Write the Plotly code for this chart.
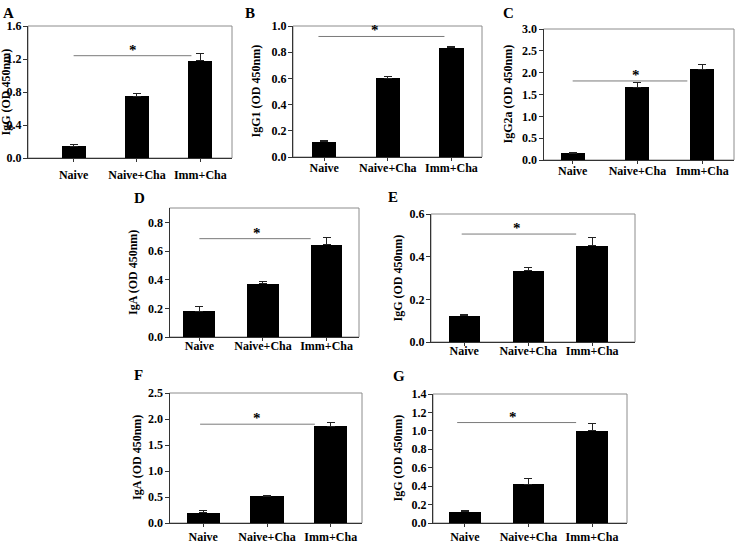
import plotly.graph_objects as go

W, H = 749, 543

categories = ["Naive", "Naive+Cha", "Imm+Cha"]
panel_letters = ["A", "B", "C", "D", "E", "F", "G"]
y_titles = ["IgG (OD 450nm)", "IgG1 (OD 450nm)", "IgG2a (OD 450nm)",
            "IgA (OD 450nm)", "IgG (OD 450nm)", "IgA (OD 450nm)", "IgG (OD 450nm)"]

vals_A = [0.14, 0.75, 1.18]
err_A = [0.02, 0.035, 0.09]
vals_B = [0.115, 0.60, 0.835]
err_B = [0.008, 0.015, 0.008]
vals_C = [0.15, 1.67, 2.08]
err_C = [0.03, 0.10, 0.11]
vals_D = [0.18, 0.37, 0.645]
err_D = [0.035, 0.018, 0.052]
vals_E = [0.124, 0.333, 0.452]
err_E = [0.006, 0.014, 0.04]
vals_F = [0.20, 0.51, 1.86]
err_F = [0.05, 0.025, 0.07]
vals_G = [0.12, 0.42, 1.00]
err_G = [0.015, 0.065, 0.08]

values = [vals_A, vals_B, vals_C, vals_D, vals_E, vals_F, vals_G]
errors = [err_A, err_B, err_C, err_D, err_E, err_F, err_G]

y_max = [1.6, 1.0, 3.0, 0.9, 0.6, 2.5, 1.4]
y_dtick = [0.4, 0.2, 0.5, 0.2, 0.2, 0.5, 0.2]

# significance bar: start category pos, end pos, height, star pos
sig_x0 = [0.0, -0.09, 0.0, 0.0, -0.04, -0.05, -0.12]
sig_x1 = [1.86, 1.89, 1.77, 1.75, 1.75, 1.75, 1.75]
sig_y = [1.24, 0.92, 1.81, 0.686, 0.506, 1.90, 1.09]
sig_star_x = [0.94, 0.8, 0.97, 0.91, 0.83, 0.84, 0.76]

# ---- layout (pixel boxes in the picture) ----
boxes = [  # x0, x1, y0(top), y1(bottom)
    (28, 232, 26, 158),
    (293, 482, 26, 157),
    (543.5, 734, 29, 160),
    (169.5, 359, 208, 337),
    (431, 635, 214, 342),
    (169.5, 362, 393, 523),
    (433, 627, 394, 523),
]
x_ranges = [(-0.72, 2.5), (-0.49, 2.48), (-0.45, 2.49), (-0.47, 2.51),
            (-0.52, 2.67), (-0.53, 2.49), (-0.5, 2.55)]
bar_widths = [0.38, 0.385, 0.37, 0.5, 0.49, 0.52, 0.5]
xlabel_standoff = [3, -3, -3, -5, -5, 0, 0]
letter_pos = [(8, 13), (250, 13), (508, 13), (139, 198), (393, 197), (138, 375), (399, 376)]
ytitle_x = [5.5, 256, 507, 132.5, 397.5, 137, 397]

FONT = "Liberation Serif"

def px(x):
    return x / W

def py(y):
    return 1 - y / H

fig = go.Figure()
annotations = []
shapes = []
layout_axes = {}

for i in range(7):
    n = "" if i == 0 else str(i + 1)
    xa, ya = "x" + n, "y" + n
    fig.add_trace(go.Bar(
        x=[0, 1, 2], y=values[i], xaxis=xa, yaxis=ya,
        width=bar_widths[i],
        marker=dict(color="black", line=dict(width=0)),
        error_y=dict(type="data", array=errors[i], arrayminus=[0, 0, 0], symmetric=False,
                     color="#222222", thickness=1, width=4),
        showlegend=False,
    ))
    x0, x1, t, b = boxes[i]
    layout_axes["xaxis" + n] = dict(
        domain=[px(x0), px(x1)], anchor=ya, range=list(x_ranges[i]),
        tickmode="array", tickvals=[0, 1, 2], ticktext=categories,
        ticks="outside", ticklen=3, tickcolor="#333333",
        showline=True, linecolor="#333333", linewidth=1,
        showgrid=False, zeroline=False, fixedrange=True, automargin=False,
        ticklabelstandoff=xlabel_standoff[i],
        tickfont=dict(family=FONT, size=12, color="black", weight="bold"),
    )
    layout_axes["yaxis" + n] = dict(
        domain=[py(b), py(t)], anchor=xa, range=[0, y_max[i]],
        tick0=0, dtick=y_dtick[i], tickformat=".1f",
        ticks="outside", ticklen=4, tickcolor="#333333",
        showline=True, linecolor="#333333", linewidth=1,
        showgrid=False, zeroline=False, fixedrange=True, automargin=False,
        ticklabelstandoff=-1,
        tickfont=dict(family=FONT, size=12, color="black", weight="bold"),
    )
    shapes.append(dict(type="rect", xref=xa + " domain", yref=ya + " domain",
                       x0=0, x1=1, y0=0, y1=1, line=dict(color="#8c8c8c", width=1),
                       layer="below"))
    shapes.append(dict(type="line", xref=xa, yref=ya, x0=sig_x0[i], x1=sig_x1[i],
                       y0=sig_y[i], y1=sig_y[i], line=dict(color="#7a7a7a", width=1)))
    annotations.append(dict(xref=xa, yref=ya, x=sig_star_x[i], y=sig_y[i], text="*",
                            showarrow=False, yanchor="bottom", yshift=-4,
                            font=dict(family=FONT, size=15, color="black", weight="bold")))
    annotations.append(dict(xref="paper", yref="paper", x=px(letter_pos[i][0]),
                            y=py(letter_pos[i][1]), text=panel_letters[i], showarrow=False,
                            xanchor="center", yanchor="middle",
                            font=dict(family=FONT, size=15, color="black", weight="bold")))
    annotations.append(dict(xref="paper", yref="paper", x=px(ytitle_x[i]),
                            y=py((t + b) / 2), text=y_titles[i], showarrow=False,
                            textangle=-90, xanchor="center", yanchor="middle",
                            font=dict(family=FONT, size=12, color="black", weight="bold")))

fig.update_layout(
    width=W, height=H, margin=dict(l=0, r=0, t=0, b=0, pad=0, autoexpand=False),
    paper_bgcolor="white", plot_bgcolor="white",
    annotations=annotations, shapes=shapes, bargap=0,
    **layout_axes,
)

fig.write_html(
    "out.html",
    config={"displayModeBar": False, "staticPlot": True},
    post_script="document.body.style.margin='0';document.body.style.overflow='hidden';",
)
